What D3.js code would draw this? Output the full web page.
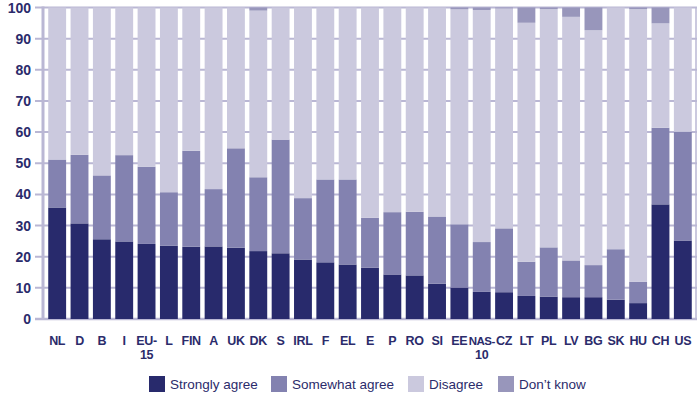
<!DOCTYPE html>
<html>
<head>
<meta charset="utf-8">
<script src="https://cdn.jsdelivr.net/npm/d3@7"></script>
<style>
  body { margin: 0; background: #fff; }
  #chart svg { display: block; }
  text { font-family: "Liberation Sans", Arial, sans-serif; fill: #2b2b6b; }
</style>
</head>
<body>
<div id="chart"></div>
<script>
// =====================================
// DATA
// =====================================

const categories = ["NL", "D", "B", "I", "EU-15", "L", "FIN", "A", "UK", "DK", "S", "IRL", "F", "EL", "E",
  "P", "RO", "SI", "EE", "NAS-10", "CZ", "LT", "PL", "LV", "BG", "SK", "HU", "CH", "US"];

const stronglyAgree = [35.8, 30.7, 25.6, 24.9, 24.1, 23.5, 23.2, 23.3, 22.9, 21.8, 21.1, 19.1, 18.2, 17.5, 16.5,
  14.3, 14.0, 11.3, 10.1, 8.7, 8.6, 7.4, 7.2, 7.0, 7.0, 6.2, 5.1, 36.8, 25.2];

const somewhatAgree = [15.4, 22.0, 20.5, 27.7, 24.8, 17.2, 30.8, 18.4, 31.9, 23.7, 36.5, 19.7, 26.6, 27.3, 16.0,
  20.0, 20.4, 21.6, 20.3, 16.0, 20.5, 11.0, 15.8, 11.8, 10.3, 16.2, 6.8, 24.6, 34.9];

const disagree = [48.8, 47.3, 53.9, 47.4, 51.1, 59.3, 46.0, 58.3, 45.2, 53.5, 42.4, 61.2, 55.2, 55.2, 67.5,
  65.7, 65.6, 67.1, 69.0, 74.5, 70.6, 76.7, 76.5, 78.2, 75.4, 77.6, 87.6, 33.5, 39.9];

const dontKnow = [0, 0, 0, 0, 0, 0, 0, 0, 0, 1.0, 0, 0, 0, 0, 0,
  0, 0, 0, 0.6, 0.8, 0.3, 4.9, 0.5, 3.0, 7.3, 0, 0.5, 5.1, 0];

const seriesNames = ["Strongly agree", "Somewhat agree", "Disagree", "Don\u2019t know"];
const seriesValues = [stronglyAgree, somewhatAgree, disagree, dontKnow];
const colors = ["#282a6c", "#8382b0", "#cbc9de", "#9896bb"];

const yTicks = [0, 10, 20, 30, 40, 50, 60, 70, 80, 90, 100];

// table for d3.stack
const table = categories.map((c, i) => {
  const row = { category: c };
  seriesNames.forEach((s, j) => { row[s] = seriesValues[j][i]; });
  return row;
});

// =====================================
// DIMENSIONS
// =====================================

const width = 700;
const height = 395;
const plot = { left: 43, right: 696, top: 7.5, bottom: 319 };

const svg = d3.select("#chart")
  .append("svg")
  .attr("width", width)
  .attr("height", height);

// =====================================
// SCALES
// =====================================

const x = d3.scaleBand()
  .domain(categories)
  .range([46, 694])
  .paddingInner(0.2)
  .paddingOuter(0.1);

const y = d3.scaleLinear()
  .domain([0, 100])
  .range([plot.bottom, plot.top]);

// =====================================
// GRID + AXES
// =====================================

svg.append("g")
  .selectAll("line")
  .data(yTicks)
  .enter()
  .append("line")
  .attr("x1", 35)
  .attr("x2", plot.right + 1)
  .attr("y1", d => y(d))
  .attr("y2", d => y(d))
  .style("stroke", "#bab7d4")
  .style("stroke-width", d => d === 0 ? 2.5 : 2);

// right frame
svg.append("line")
  .attr("x1", plot.right)
  .attr("x2", plot.right)
  .attr("y1", plot.top)
  .attr("y2", plot.bottom)
  .style("stroke", "#bab7d4")
  .style("stroke-width", 1.5);

// y axis line
svg.append("line")
  .attr("x1", plot.left)
  .attr("x2", plot.left)
  .attr("y1", plot.top - 1)
  .attr("y2", plot.bottom + 1)
  .style("stroke", "#bab7d4")
  .style("stroke-width", 3);

// y labels
svg.append("g")
  .selectAll("text")
  .data(yTicks)
  .enter()
  .append("text")
  .attr("x", 31)
  .attr("y", d => y(d))
  .attr("dy", "0.36em")
  .attr("text-anchor", "end")
  .style("font-size", "14px")
  .style("font-weight", "bold")
  .text(d => d);

// =====================================
// BARS
// =====================================

const stacked = d3.stack().keys(seriesNames)(table);

svg.append("g")
  .selectAll("g")
  .data(stacked)
  .enter()
  .append("g")
  .attr("fill", (d, i) => colors[i])
  .selectAll("rect")
  .data(d => d)
  .enter()
  .append("rect")
  .attr("x", d => x(d.data.category))
  .attr("width", x.bandwidth())
  .attr("y", d => y(d[1]))
  .attr("height", d => Math.max(0, y(d[0]) - y(d[1])));

// =====================================
// X LABELS
// =====================================

const xLabels = svg.append("g")
  .selectAll("text")
  .data(categories)
  .enter()
  .append("text")
  .attr("x", d => x(d) + x.bandwidth() / 2)
  .attr("y", 345)
  .attr("text-anchor", "middle")
  .style("font-size", "12.5px")
  .style("font-weight", "bold")
  .style("letter-spacing", "-0.3px");

// hyphenated names wrap after the hyphen
xLabels.each(function(d) {
  const parts = d.includes("-") ? [d.split("-")[0] + "-", d.split("-")[1]] : [d];
  const t = d3.select(this);
  parts.forEach((p, i) => {
    t.append("tspan")
      .attr("x", x(d) + x.bandwidth() / 2)
      .attr("dy", i === 0 ? 0 : 14)
      .text(p);
  });
});

// too wide for its slot (NAS-): shrink a little
xLabels.selectAll("tspan").each(function() {
  if (this.getComputedTextLength() > x.step() + 4) {
    d3.select(this)
      .style("font-size", "11.5px")
      .style("letter-spacing", "-0.5px");
  }
});

// =====================================
// LEGEND
// =====================================

const legendX = [149, 271, 408, 498];

const legend = svg.append("g")
  .selectAll("g")
  .data(seriesNames)
  .enter()
  .append("g")
  .attr("transform", (d, i) => `translate(${legendX[i]},376)`);

legend.append("rect")
  .attr("width", 16)
  .attr("height", 16)
  .attr("fill", (d, i) => colors[i]);

legend.append("text")
  .attr("x", 21)
  .attr("y", 13)
  .style("font-size", "13.5px")
  .text(d => d);
</script>
</body>
</html>
